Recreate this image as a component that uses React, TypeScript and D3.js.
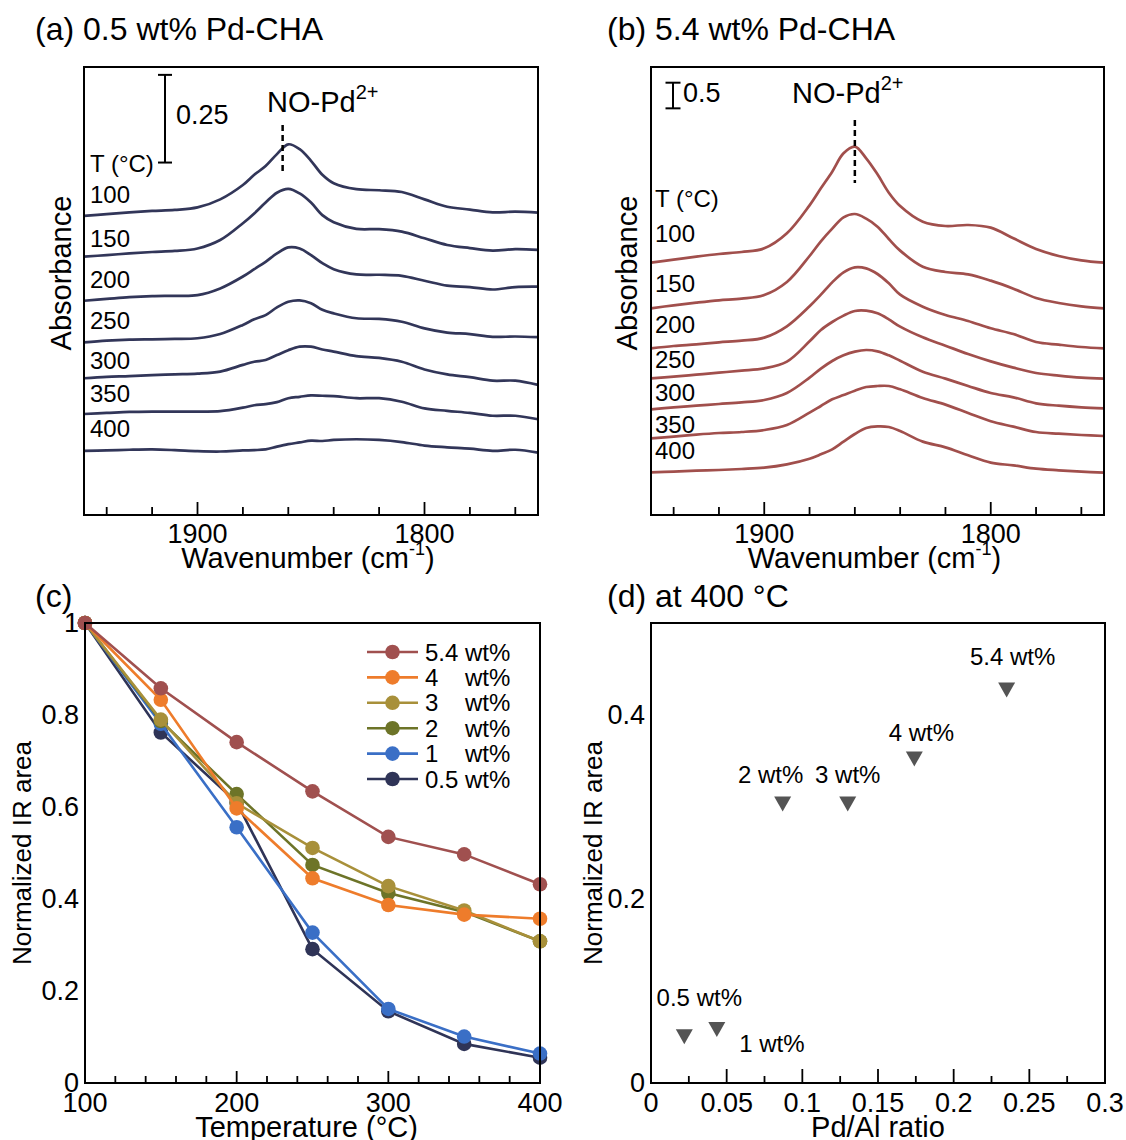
import React from "react";
import * as d3 from "d3";

const FONT = "'Liberation Sans', Arial, Helvetica, sans-serif";
const W = 1126;
const H = 1140;

// wavenumber grid (cm-1) shared by all spectra
const wavenumbers = [1950, 1940, 1930, 1920, 1910, 1900, 1890, 1880, 1875, 1870, 1865, 1860, 1855, 1850, 1845, 1840, 1830, 1820, 1810, 1800, 1790, 1780, 1770, 1760, 1750];

const tempLabels = ["100", "150", "200", "250", "300", "350", "400"];

// (a) 0.5 wt% Pd-CHA, absorbance with stacking offset
const a100 = [0.853, 0.858, 0.863, 0.867, 0.870, 0.877, 0.900, 0.941, 0.970, 0.995, 1.029, 1.057, 1.043, 1.010, 0.970, 0.946, 0.929, 0.926, 0.921, 0.900, 0.879, 0.871, 0.863, 0.865, 0.862];
const a150 = [0.737, 0.741, 0.746, 0.750, 0.753, 0.760, 0.784, 0.832, 0.860, 0.891, 0.919, 0.930, 0.917, 0.891, 0.855, 0.835, 0.816, 0.815, 0.808, 0.789, 0.770, 0.761, 0.754, 0.758, 0.756];
const a200 = [0.611, 0.616, 0.621, 0.624, 0.625, 0.627, 0.646, 0.680, 0.701, 0.722, 0.746, 0.763, 0.760, 0.741, 0.718, 0.701, 0.686, 0.685, 0.682, 0.668, 0.654, 0.650, 0.643, 0.650, 0.651];
const a250 = [0.492, 0.497, 0.500, 0.501, 0.502, 0.504, 0.516, 0.542, 0.558, 0.570, 0.592, 0.608, 0.612, 0.604, 0.585, 0.575, 0.561, 0.559, 0.551, 0.532, 0.520, 0.516, 0.508, 0.509, 0.507];
const a300 = [0.390, 0.394, 0.396, 0.399, 0.401, 0.403, 0.409, 0.428, 0.437, 0.442, 0.456, 0.470, 0.480, 0.480, 0.472, 0.466, 0.453, 0.448, 0.437, 0.415, 0.401, 0.393, 0.383, 0.383, 0.371];
const a350 = [0.288, 0.291, 0.294, 0.295, 0.295, 0.295, 0.296, 0.306, 0.313, 0.316, 0.322, 0.333, 0.337, 0.341, 0.340, 0.339, 0.333, 0.333, 0.323, 0.304, 0.297, 0.291, 0.283, 0.283, 0.273];
const a400 = [0.183, 0.184, 0.186, 0.187, 0.185, 0.182, 0.181, 0.184, 0.185, 0.187, 0.195, 0.202, 0.207, 0.212, 0.211, 0.214, 0.216, 0.214, 0.208, 0.198, 0.193, 0.189, 0.183, 0.186, 0.178];

// (b) 5.4 wt% Pd-CHA
const b100 = [4.919, 4.977, 5.036, 5.088, 5.127, 5.198, 5.491, 6.036, 6.368, 6.693, 7.050, 7.180, 6.953, 6.641, 6.283, 6.023, 5.718, 5.634, 5.653, 5.601, 5.393, 5.185, 5.049, 4.964, 4.919];
const b150 = [4.029, 4.087, 4.139, 4.185, 4.217, 4.288, 4.542, 5.049, 5.335, 5.582, 5.802, 5.867, 5.776, 5.621, 5.380, 5.153, 4.841, 4.737, 4.691, 4.568, 4.412, 4.230, 4.133, 4.068, 4.029];
const b200 = [3.249, 3.294, 3.327, 3.366, 3.398, 3.457, 3.678, 4.068, 4.295, 4.535, 4.730, 4.828, 4.808, 4.698, 4.516, 4.295, 4.061, 3.899, 3.782, 3.639, 3.528, 3.372, 3.320, 3.275, 3.249];
const b250 = [2.664, 2.697, 2.736, 2.775, 2.814, 2.859, 2.989, 3.385, 3.606, 3.762, 3.886, 3.977, 3.983, 3.931, 3.814, 3.671, 3.463, 3.301, 3.138, 2.995, 2.872, 2.768, 2.716, 2.677, 2.658];
const b300 = [2.060, 2.099, 2.131, 2.164, 2.196, 2.242, 2.378, 2.677, 2.853, 3.002, 3.112, 3.184, 3.216, 3.190, 3.112, 3.008, 2.794, 2.658, 2.515, 2.378, 2.294, 2.177, 2.131, 2.099, 2.079];
const b350 = [1.494, 1.527, 1.566, 1.598, 1.618, 1.657, 1.754, 1.995, 2.125, 2.255, 2.339, 2.424, 2.495, 2.515, 2.515, 2.450, 2.281, 2.151, 1.988, 1.826, 1.722, 1.618, 1.585, 1.559, 1.540];
const b400 = [0.832, 0.845, 0.864, 0.877, 0.897, 0.923, 0.988, 1.098, 1.183, 1.280, 1.430, 1.579, 1.696, 1.728, 1.715, 1.637, 1.430, 1.319, 1.163, 1.020, 0.968, 0.903, 0.871, 0.845, 0.825];

// (c) normalized IR area vs temperature
const temperatures = [100, 150, 200, 250, 300, 350, 400];
const loadingNames = ["5.4", "4", "3", "2", "1", "0.5"];
const area54 = [1, 0.858, 0.741, 0.634, 0.535, 0.497, 0.432];
const area4 = [1, 0.833, 0.597, 0.445, 0.387, 0.366, 0.357];
const area3 = [1, 0.790, 0.608, 0.511, 0.428, 0.375, 0.308];
const area2 = [1, 0.787, 0.628, 0.474, 0.413, 0.372, 0.308];
const area1 = [1, 0.781, 0.556, 0.327, 0.161, 0.101, 0.064];
const area05 = [1, 0.762, 0.610, 0.291, 0.156, 0.085, 0.055];
const loadingColors = ["#a0504f", "#ee7c2b", "#a8903a", "#6d7428", "#3a6fc6", "#2f3457"];

// (d) at 400 C vs Pd/Al ratio
const pdAlLabels = ["0.5 wt%", "1 wt%", "2 wt%", "3 wt%", "4 wt%", "5.4 wt%"];
const pdAlRatio = [0.022, 0.0435, 0.087, 0.130, 0.174, 0.235];
const area400 = [0.053, 0.061, 0.306, 0.306, 0.355, 0.430];
// label offsets from marker (px)
const pdAlLabelOffsets: [number, number][] = [[15, -28], [55, 25], [-12, -18], [0, -18], [7, -15], [6, -22]];

const TICK = 27;
const AXT = 29;
const ANN = 24;
const TTL = 32;

type SpectraProps = {
  x0: number; x1: number; y0: number; y1: number;
  yMax: number; curves: number[][]; color: string;
  title: string; titleX: number;
  barX: number; barTop: number; barValue: number; barLabel: string; barLabelX: number; barLabelY: number; barCap: number;
  peakWn: number; peakY0: number; peakY1: number; noX: number; noY: number;
  labelX: number; tBase: number; labelBases: number[]; yTitleX: number;
};

function SpectraPanel(p: SpectraProps) {
  const x = d3.scaleLinear().domain([1950, 1750]).range([p.x0, p.x1]);
  const y = d3.scaleLinear().domain([0, p.yMax]).range([p.y1, p.y0]);
  const line = d3
    .line<[number, number]>()
    .x(d => x(d[0]))
    .y(d => y(d[1]))
    .curve(d3.curveCatmullRom.alpha(0.5));
  const ticks = d3.range(1940, 1759, -20);
  const barY0 = y(p.barTop);
  const barY1 = y(p.barTop - p.barValue);
  return (
    <g>
      <text x={p.titleX} y={40} fontSize={TTL}>{p.title}</text>
      {p.curves.map((c, i) => (
        <path key={i} d={line(wavenumbers.map((w, j) => [w, c[j]] as [number, number])) || ""}
          fill="none" stroke={p.color} strokeWidth={2.7} strokeLinejoin="round" />
      ))}
      <rect x={p.x0} y={p.y0} width={p.x1 - p.x0} height={p.y1 - p.y0} fill="none" stroke="#000" strokeWidth={2} />
      {ticks.map(t => (
        <line key={t} x1={x(t)} x2={x(t)} y1={p.y1} y2={p.y1 - (t % 100 === 0 ? 13 : 8)} stroke="#000" strokeWidth={1.8} />
      ))}
      {[1900, 1800].map(t => (
        <text key={t} x={x(t)} y={p.y1 + 28} fontSize={TICK} textAnchor="middle">{t}</text>
      ))}
      <text x={(p.x0 + p.x1) / 2 - 3} y={p.y1 + 53} fontSize={AXT} textAnchor="middle">
        Wavenumber (cm<tspan dy={-13} fontSize={18}>-1</tspan><tspan dy={13}>)</tspan>
      </text>
      <text transform={`translate(${p.yTitleX},${(p.y0 + p.y1) / 2 - 18}) rotate(-90)`} fontSize={AXT} textAnchor="middle" dominantBaseline="central">Absorbance</text>
      {/* scale bar */}
      <g stroke="#000" strokeWidth={2}>
        <line x1={p.barX} x2={p.barX} y1={barY0} y2={barY1} />
        <line x1={p.barX - p.barCap} x2={p.barX + p.barCap} y1={barY0} y2={barY0} />
        <line x1={p.barX - p.barCap} x2={p.barX + p.barCap} y1={barY1} y2={barY1} />
      </g>
      <text x={p.barLabelX} y={p.barLabelY} fontSize={TICK}>{p.barLabel}</text>
      <text x={p.noX} y={p.noY} fontSize={29}>NO-Pd<tspan dy={-13} fontSize={20}>2+</tspan></text>
      <line x1={x(p.peakWn)} x2={x(p.peakWn)} y1={p.peakY0} y2={p.peakY1} stroke="#000" strokeWidth={2.5} strokeDasharray="6,4" />
      <text x={p.labelX} y={p.tBase} fontSize={ANN}>T (°C)</text>
      {tempLabels.map((t, i) => (
        <text key={t} x={p.labelX} y={p.labelBases[i]} fontSize={ANN}>{t}</text>
      ))}
    </g>
  );
}

function TemperaturePanel() {
  const x0 = 85, x1 = 540, y0 = 623, y1 = 1083;
  const x = d3.scaleLinear().domain([100, 400]).range([x0, x1]);
  const y = d3.scaleLinear().domain([0, 1]).range([y1, y0]);
  const series = [area54, area4, area3, area2, area1, area05];
  const line = d3.line<number>().x((_, i) => x(temperatures[i])).y(d => y(d));
  const order = [5, 4, 3, 2, 1, 0];
  const legendX = 367, legendY = 652, legendStep = 25.4;
  return (
    <g>
      <text x={35} y={607} fontSize={TTL}>(c)</text>
      {order.map(k => (
        <g key={k}>
          <path d={line(series[k]) || ""} fill="none" stroke={loadingColors[k]} strokeWidth={2.6} />
          {series[k].map((v, i) => (
            <circle key={i} cx={x(temperatures[i])} cy={y(v)} r={7.3} fill={loadingColors[k]} />
          ))}
        </g>
      ))}
      <rect x={x0} y={y0} width={x1 - x0} height={y1 - y0} fill="none" stroke="#000" strokeWidth={2} />
      {d3.range(120, 400, 20).map(t => (
        <line key={t} x1={x(t)} x2={x(t)} y1={y1} y2={y1 - (t % 100 === 0 ? 12 : 7)} stroke="#000" strokeWidth={1.8} />
      ))}
      {[100, 200, 300, 400].map(t => (
        <text key={t} x={x(t)} y={y1 + 29} fontSize={TICK} textAnchor="middle">{t}</text>
      ))}
      {[0, 0.2, 0.4, 0.6, 0.8, 1].map(v => (
        <text key={v} x={x0 - 6} y={y(v)} fontSize={TICK} textAnchor="end" dominantBaseline="central">{d3.format("~g")(v)}</text>
      ))}
      <text x={(x0 + x1) / 2 - 6} y={y1 + 54} fontSize={AXT} textAnchor="middle">Temperature (°C)</text>
      <text transform={`translate(22,${(y0 + y1) / 2}) rotate(-90)`} fontSize={AXT - 3} textAnchor="middle" dominantBaseline="central">Normalized IR area</text>
      {loadingNames.map((n, i) => {
        const cy = legendY + i * legendStep;
        return (
          <g key={n}>
            <line x1={legendX} x2={legendX + 51} y1={cy} y2={cy} stroke={loadingColors[i]} strokeWidth={2.6} />
            <circle cx={legendX + 25.5} cy={cy} r={7.3} fill={loadingColors[i]} />
            <text x={legendX + 58} y={cy + 8.5} fontSize={ANN}>{n}</text>
            <text x={legendX + 98} y={cy + 8.5} fontSize={ANN}>wt%</text>
          </g>
        );
      })}
    </g>
  );
}

function RatioPanel() {
  const x0 = 651, x1 = 1105, y0 = 623, y1 = 1083;
  const x = d3.scaleLinear().domain([0, 0.3]).range([x0, x1]);
  const y = d3.scaleLinear().domain([0, 0.5]).range([y1, y0]);
  const tri = "M-8.5,-5L8.5,-5L0,10Z";
  return (
    <g>
      <text x={607} y={607} fontSize={TTL}>(d) at 400 °C</text>
      {pdAlRatio.map((r, i) => (
        <g key={i}>
          <path d={tri} transform={`translate(${x(r)},${y(area400[i])})`} fill="#545454" />
          <text x={x(r) + pdAlLabelOffsets[i][0]} y={y(area400[i]) + pdAlLabelOffsets[i][1]} fontSize={ANN} textAnchor="middle">{pdAlLabels[i]}</text>
        </g>
      ))}
      <rect x={x0} y={y0} width={x1 - x0} height={y1 - y0} fill="none" stroke="#000" strokeWidth={2} />
      {d3.range(1, 12).map(k => {
        const t = k * 0.025;
        return <line key={k} x1={x(t)} x2={x(t)} y1={y1} y2={y1 - (k % 2 === 0 ? 14 : 7)} stroke="#000" strokeWidth={1.8} />;
      })}
      {[0, 0.05, 0.1, 0.15, 0.2, 0.25, 0.3].map(t => (
        <text key={t} x={x(t)} y={y1 + 29} fontSize={TICK} textAnchor="middle">{d3.format("~g")(t)}</text>
      ))}
      {[0, 0.2, 0.4].map(v => (
        <text key={v} x={x0 - 6} y={y(v)} fontSize={TICK} textAnchor="end" dominantBaseline="central">{d3.format("~g")(v)}</text>
      ))}
      <text x={(x0 + x1) / 2} y={y1 + 54} fontSize={AXT} textAnchor="middle">Pd/Al ratio</text>
      <text transform={`translate(593,${(y0 + y1) / 2}) rotate(-90)`} fontSize={AXT - 3} textAnchor="middle" dominantBaseline="central">Normalized IR area</text>
    </g>
  );
}

export default function App() {
  return (
    <>
      <style>{`body{margin:0} svg{display:block}`}</style>
      <svg width={W} height={H} fontFamily={FONT} style={{ background: "#fff" }}>
        <SpectraPanel
          x0={84} x1={538} y0={67} y1={515} yMax={448 / 350.7}
          curves={[a100, a150, a200, a250, a300, a350, a400]} color="#323659"
          title="(a) 0.5 wt% Pd-CHA" titleX={35}
          barX={165} barTop={1.255} barValue={0.25} barLabel="0.25" barLabelX={176} barLabelY={124} barCap={7}
          peakWn={1862.5} peakY0={125} peakY1={172} noX={267} noY={112}
          labelX={90} tBase={172} labelBases={[203, 247, 288, 329, 369, 402, 437]} yTitleX={61}
        />
        <SpectraPanel
          x0={651} x1={1104} y0={67} y1={515} yMax={448 / 51.3}
          curves={[b100, b150, b200, b250, b300, b350, b400]} color="#a14f4c"
          title="(b) 5.4 wt% Pd-CHA" titleX={607}
          barX={673} barTop={8.427} barValue={0.5} barLabel="0.5" barLabelX={683} barLabelY={102} barCap={7.5}
          peakWn={1860} peakY0={120} peakY1={183} noX={792} noY={103}
          labelX={655} tBase={207} labelBases={[242, 292, 333, 368, 401, 433, 459]} yTitleX={627}
        />
        <TemperaturePanel />
        <RatioPanel />
      </svg>
    </>
  );
}
